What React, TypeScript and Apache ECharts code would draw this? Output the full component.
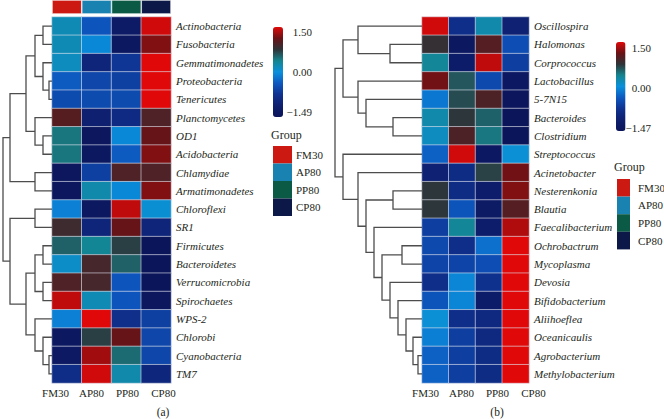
import React, { useEffect, useRef } from "react";
import * as echarts from "echarts";

const groups = ["FM30", "AP80", "PP80", "CP80"];
const groupColors = ["#cc1a12", "#1a82b0", "#0a5a45", "#0c1848"];

const taxaA = [
  "Actinobacteria", "Fusobacteria", "Gemmatimonadetes", "Proteobacteria", "Tenericutes",
  "Planctomycetes", "OD1", "Acidobacteria", "Chlamydiae", "Armatimonadetes",
  "Chloroflexi", "SR1", "Firmicutes", "Bacteroidetes", "Verrucomicrobia",
  "Spirochaetes", "WPS-2", "Chlorobi", "Cyanobacteria", "TM7",
];
// rows: FM30, AP80, PP80, CP80 (row z-scores)
const valuesA = [
  [0.2, -0.4, -1.25, 1.45],
  [0.2, -0.05, -1.35, 1.2],
  [0.15, -1.0, -0.7, 1.5],
  [-0.35, -0.55, -0.6, 1.5],
  [-0.5, -0.5, -0.5, 1.5],
  [1.0, -1.1, -0.9, 0.95],
  [0.45, -1.4, -0.05, 1.1],
  [0.45, -1.35, -0.35, 1.2],
  [-1.4, -0.6, 0.95, 0.95],
  [-1.4, 0.25, -0.05, 1.2],
  [-0.1, -1.35, 1.4, 0.05],
  [0.85, -1.0, 1.1, -1.0],
  [0.55, 0.35, 0.7, -1.45],
  [0.1, 0.9, 0.55, -1.45],
  [0.95, 0.9, -0.4, -1.45],
  [1.4, 0.2, -0.4, -1.4],
  [-0.1, 1.5, -0.8, -0.6],
  [-1.35, 0.7, 1.1, -0.55],
  [-1.3, 1.3, 0.5, -0.55],
  [-0.85, 1.45, 0.25, -0.95],
];
// merges: [left, right, height]; leaves 0..19, new nodes numbered from 20
const mergesA = [
  [0, 1, 9], [3, 4, 3], [2, 21, 9], [20, 22, 17], [6, 7, 9], [5, 24, 17],
  [23, 25, 26], [8, 9, 17], [26, 27, 42], [10, 11, 17], [12, 13, 9], [14, 15, 9],
  [30, 31, 17], [18, 19, 3], [17, 33, 9], [16, 34, 17], [32, 35, 26], [29, 36, 42],
  [28, 37, 49],
];

const taxaB = [
  "Oscillospira", "Halomonas", "Corprococcus", "Lactobacillus", "5-7N15",
  "Bacteroides", "Clostridium", "Streptococcus", "Acinetobacter", "Nesterenkonia",
  "Blautia", "Faecalibacterium", "Ochrobactrum", "Mycoplasma", "Devosia",
  "Bifidobacterium", "Aliihoeflea", "Oceanicaulis", "Agrobacterium", "Methylobacterium",
];
const valuesB = [
  [1.45, -0.8, 0.25, -1.05],
  [0.8, -1.35, 1.0, -0.45],
  [0.35, -1.2, 1.4, -0.6],
  [1.15, 0.6, -0.5, -1.3],
  [-0.15, 0.65, 0.95, -1.4],
  [0.25, 0.75, 0.55, -1.45],
  [0.15, 0.95, 0.45, -1.45],
  [-0.3, 1.45, -1.3, 0.05],
  [-1.05, -0.85, 0.7, 1.15],
  [0.75, -0.85, -1.15, 1.2],
  [0.75, -0.4, -1.25, 1.0],
  [-0.6, 0.35, -1.15, 1.35],
  [-0.5, -0.8, -0.2, 1.5],
  [-0.55, -0.55, -0.45, 1.5],
  [-0.8, -0.05, -0.75, 1.5],
  [-0.4, -0.05, -1.2, 1.5],
  [0.05, -0.8, -0.9, 1.5],
  [-0.1, -0.6, -0.9, 1.5],
  [-0.3, -0.6, -0.85, 1.5],
  [-0.3, -0.6, -0.85, 1.5],
];
const mergesB = [
  [1, 2, 32], [0, 20, 64], [5, 6, 29], [4, 22, 56], [3, 23, 64], [21, 24, 79],
  [9, 10, 29], [12, 13, 20], [18, 19, 4], [17, 28, 9], [16, 29, 16], [15, 30, 24],
  [14, 31, 32], [27, 32, 40], [11, 33, 48], [26, 34, 56], [8, 35, 64], [7, 36, 79],
  [25, 37, 87],
];

const rampColors = [
  "#0b1458", "#0e1f6e", "#0f3290", "#0d58c0", "#0a90dc",
  "#14858f", "#2e3438", "#6a1216", "#e00808",
];
const rangeA = [-1.49, 1.5];
const rangeB = [-1.47, 1.5];
const barTicksA = ["1.50", "0.00", "\u22121.49"];
const barTicksB = ["1.50", "0.00", "\u22121.47"];

const FONT = "Liberation Serif";
const TXT = "#231f20";

function dendroSegments(merges: number[][], n: number) {
  const ys: number[] = Array.from({ length: n }, (_, i) => i);
  const hs: number[] = Array(n).fill(0);
  const out: number[][] = [];
  merges.forEach(([l, r, h]) => {
    out.push([h, ys[l], ys[r], hs[l], hs[r]]);
    ys.push((ys[l] + ys[r]) / 2);
    hs.push(h);
  });
  return out;
}

function heatData(values: number[][]) {
  const d: number[][] = [];
  values.forEach((row, r) => row.forEach((v, c) => d.push([c, r, v])));
  return d;
}

const renderDendro = (params: any, api: any) => {
  const h = api.value(0), yl = api.value(1), yr = api.value(2), hl = api.value(3), hr = api.value(4);
  const pts = [api.coord([hl, yl]), api.coord([h, yl]), api.coord([h, yr]), api.coord([hr, yr])];
  return {
    type: "polyline",
    shape: { points: pts },
    style: { stroke: "#4d4d4d", lineWidth: 1.3, fill: null },
  };
};

export default function App() {
  const ref = useRef<HTMLDivElement>(null);
  useEffect(() => {
    if (!ref.current) return;
    const chart = echarts.init(ref.current, undefined, { renderer: "svg" });
    const rootA = mergesA[mergesA.length - 1][2];
    const rootB = mergesB[mergesB.length - 1][2];
    const hidden = { show: false };

    const catY = (data: string[]) => ({
      type: "category", data, inverse: true, position: "right",
      axisLine: hidden, axisTick: hidden, splitLine: hidden,
      axisLabel: { fontFamily: FONT, fontStyle: "italic", fontSize: 11, color: TXT, margin: 5, interval: 0 },
    });
    const catXHidden = { type: "category", data: groups, axisLine: hidden, axisTick: hidden, axisLabel: hidden, splitLine: hidden };
    const labelX = {
      type: "category", data: groups, position: "bottom",
      axisLine: hidden, axisTick: hidden, splitLine: hidden,
      axisLabel: { fontFamily: FONT, fontSize: 11, color: TXT, margin: 4, interval: 0 },
    };
    const valHidden = (min: number, max: number, inverse = false) => ({
      type: "value", min, max, inverse, show: false, splitLine: hidden,
    });

    const graphics: any[] = [];
    const colorbarText = (ticks: string[], x: number, ys: number[]) =>
      ticks.forEach((t, i) =>
        graphics.push({
          type: "text", x, y: ys[i],
          style: { text: t, fontFamily: FONT, fontSize: 11, fill: TXT, align: "right", verticalAlign: "middle" },
        })
      );
    colorbarText(barTicksA, 312, [32, 72, 112]);
    colorbarText(barTicksB, 651, [48, 88, 128]);

    const legend = (x: number, y0: number, w: number, h: number, titleX: number, titleY: number, labelX: number) => {
      graphics.push({
        type: "text", x: titleX, y: titleY,
        style: { text: "Group", fontFamily: FONT, fontSize: 12, fill: TXT, verticalAlign: "middle" },
      });
      groups.forEach((g, i) => {
        graphics.push({ type: "rect", shape: { x, y: y0 + i * h, width: w, height: h }, style: { fill: groupColors[i] } });
        graphics.push({
          type: "text", x: labelX, y: y0 + i * h + h / 2,
          style: { text: g, fontFamily: FONT, fontSize: 11, fill: TXT, verticalAlign: "middle" },
        });
      });
    };
    legend(273, 146, 19, 17.5, 271, 135, 296);
    legend(617, 179, 13, 17.6, 614, 167, 638);

    graphics.push({ type: "text", x: 163, y: 412, style: { text: "(a)", fontFamily: FONT, fontSize: 11.5, fill: TXT, align: "center", verticalAlign: "middle" } });
    graphics.push({ type: "text", x: 497, y: 412, style: { text: "(b)", fontFamily: FONT, fontSize: 11.5, fill: TXT, align: "center", verticalAlign: "middle" } });

    const cellStyle = { borderColor: "rgba(225,228,238,0.85)", borderWidth: 0.7 };

    chart.setOption({
      animation: false,
      backgroundColor: "#ffffff",
      grid: [
        { left: 52, top: 17, width: 119, height: 366 },   // 0 heatmap a
        { left: 3, top: 17, width: 49, height: 366 },     // 1 dendro a
        { left: 52, top: 0, width: 119, height: 14 },     // 2 group bar a
        { left: 37.5, top: 17, width: 144, height: 366 }, // 3 x labels a
        { left: 422, top: 17, width: 107, height: 366 },  // 4 heatmap b
        { left: 335, top: 17, width: 87, height: 366 },   // 5 dendro b
        { left: 407.5, top: 17, width: 144, height: 366 },// 6 x labels b
      ],
      xAxis: [
        { ...catXHidden, gridIndex: 0 },
        { ...valHidden(0, rootA, true), gridIndex: 1 },
        { ...catXHidden, gridIndex: 2 },
        { ...labelX, gridIndex: 3 },
        { ...catXHidden, gridIndex: 4 },
        { ...valHidden(0, rootB, true), gridIndex: 5 },
        { ...labelX, gridIndex: 6 },
      ],
      yAxis: [
        { ...catY(taxaA), gridIndex: 0 },
        { ...valHidden(-0.5, 19.5, true), gridIndex: 1 },
        { ...valHidden(0, 1), gridIndex: 2 },
        { ...valHidden(0, 1), gridIndex: 3 },
        { ...catY(taxaB), gridIndex: 4 },
        { ...valHidden(-0.5, 19.5, true), gridIndex: 5 },
        { ...valHidden(0, 1), gridIndex: 6 },
      ],
      visualMap: [
        {
          type: "continuous", seriesIndex: 0, min: rangeA[0], max: rangeA[1],
          inRange: { color: rampColors }, left: 273, top: 27, itemWidth: 10, itemHeight: 90,
          padding: 0, calculable: false, hoverLink: false, text: undefined,
        },
        {
          type: "continuous", seriesIndex: 3, min: rangeB[0], max: rangeB[1],
          inRange: { color: rampColors }, left: 616, top: 42, itemWidth: 9.5, itemHeight: 89,
          padding: 0, calculable: false, hoverLink: false, text: undefined,
        },
      ],
      series: [
        {
          type: "heatmap", xAxisIndex: 0, yAxisIndex: 0, data: heatData(valuesA),
          itemStyle: cellStyle, emphasis: { disabled: true }, silent: true,
        },
        {
          type: "custom", xAxisIndex: 1, yAxisIndex: 1, data: dendroSegments(mergesA, taxaA.length),
          encode: { x: [0, 3, 4], y: [1, 2] }, renderItem: renderDendro, silent: true, clip: false,
        },
        {
          type: "bar", xAxisIndex: 2, yAxisIndex: 2, barCategoryGap: "0%", silent: true,
          data: groups.map((g, i) => ({ value: 1, itemStyle: { color: groupColors[i], borderColor: "#ffffff", borderWidth: 0.6 } })),
        },
        {
          type: "heatmap", xAxisIndex: 4, yAxisIndex: 4, data: heatData(valuesB),
          itemStyle: cellStyle, emphasis: { disabled: true }, silent: true,
        },
        {
          type: "custom", xAxisIndex: 5, yAxisIndex: 5, data: dendroSegments(mergesB, taxaB.length),
          encode: { x: [0, 3, 4], y: [1, 2] }, renderItem: renderDendro, silent: true, clip: false,
        },
      ],
      graphic: graphics,
    });
    return () => chart.dispose();
  }, []);
  return (
    <div
      ref={ref}
      style={{ position: "fixed", left: 0, top: 0, width: 664, height: 419, background: "#fff" }}
    />
  );
}
